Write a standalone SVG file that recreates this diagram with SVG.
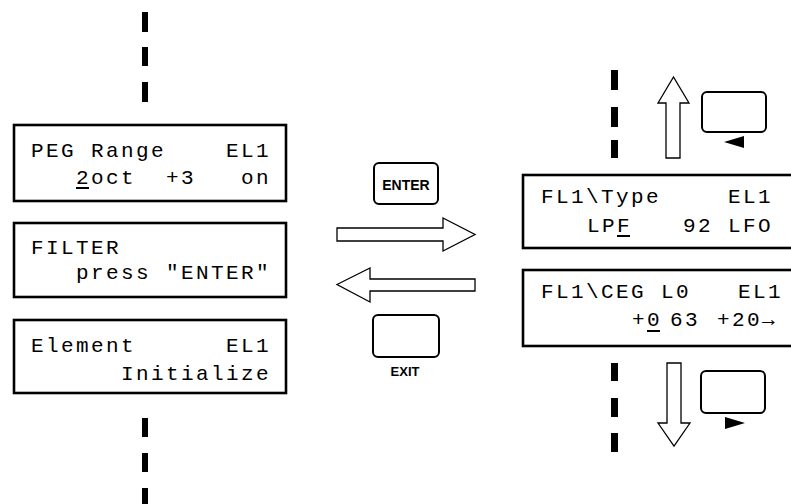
<svg xmlns="http://www.w3.org/2000/svg" width="791" height="504" viewBox="0 0 791 504">
<style>
.lcd{fill:#fff;stroke:#000;stroke-width:2.6}
.t{font-family:"Liberation Mono","DejaVu Sans Mono",monospace;font-size:21px;letter-spacing:2.4px;fill:#000}
.dash{fill:#000}
.btn{fill:#fff;stroke:#000;stroke-width:2}
.arr{fill:#fff;stroke:#000;stroke-width:1.3}
.lbl{font-family:"Liberation Sans",Arial,sans-serif;font-weight:bold;fill:#000}
.cur{stroke:#000;stroke-width:2}
</style>
<rect width="791" height="504" fill="#fff"/>
<g id="dashes">
<rect class="dash" x="142" y="12" width="6" height="20"/>
<rect class="dash" x="142" y="47" width="6" height="19"/>
<rect class="dash" x="142" y="82" width="6" height="20"/>
<rect class="dash" x="142" y="418" width="6" height="19"/>
<rect class="dash" x="142" y="453" width="6" height="19"/>
<rect class="dash" x="142" y="488" width="6" height="16"/>
<rect class="dash" x="611" y="70" width="7" height="20"/>
<rect class="dash" x="611" y="107" width="7" height="20"/>
<rect class="dash" x="611" y="140" width="7" height="18"/>
<rect class="dash" x="611" y="363" width="7" height="18"/>
<rect class="dash" x="611" y="398" width="7" height="19"/>
<rect class="dash" x="611" y="433" width="7" height="19"/>
</g>
<g id="lcd-peg-range">
<rect class="lcd" x="14" y="125" width="272" height="76"/>
<text class="t" x="31" y="157" xml:space="preserve">PEG Range    EL1</text>
<text class="t" x="31" y="184" xml:space="preserve">   2oct  +3   on</text>
<line class="cur" x1="76" y1="188" x2="89" y2="188"/>
</g>
<g id="lcd-filter">
<rect class="lcd" x="14" y="223" width="272" height="74"/>
<text class="t" x="31" y="254" xml:space="preserve">FILTER</text>
<text class="t" x="31" y="279" xml:space="preserve">   press "ENTER"</text>
</g>
<g id="lcd-element">
<rect class="lcd" x="14" y="320" width="272" height="73"/>
<text class="t" x="31" y="352" xml:space="preserve">Element      EL1</text>
<text class="t" x="31" y="380" xml:space="preserve">      Initialize</text>
</g>
<g id="btn-enter">
<rect class="btn" x="374" y="163" width="64" height="41" rx="5"/>
<text class="lbl" x="406" y="190" font-size="14" text-anchor="middle">ENTER</text>
</g>
<g id="btn-exit">
<rect class="btn" x="373" y="315" width="66" height="42" rx="5"/>
<text class="lbl" x="405" y="376" font-size="13" text-anchor="middle">EXIT</text>
</g>
<g id="lcd-fl1-type">
<rect class="lcd" x="523" y="175" width="280" height="73"/>
<text class="t" x="541" y="203">FL1\Type</text>
<text class="t" x="728" y="203">EL1</text>
<text class="t" x="587" y="232">LPF</text>
<text class="t" x="683" y="232">92</text>
<text class="t" x="728" y="232">LFO</text>
<line class="cur" x1="617" y1="236" x2="630" y2="236"/>
</g>
<g id="lcd-fl1-ceg">
<rect class="lcd" x="523" y="270" width="280" height="76"/>
<text class="t" x="541" y="298" xml:space="preserve">FL1\CEG L0</text>
<text class="t" x="738" y="298">EL1</text>
<text class="t" x="632" y="326">+0</text>
<text class="t" x="670" y="326">63</text>
<text class="t" x="717" y="326">+20→</text>
<line class="cur" x1="647" y1="331" x2="660" y2="331"/>
</g>
<g id="btn-left">
<rect class="btn" x="702" y="92" width="64" height="40" rx="5"/>
<polygon points="724,142 744,136 744,148" fill="#000"/>
</g>
<g id="btn-right">
<rect class="btn" x="701" y="371" width="64" height="42" rx="5"/>
<polygon points="745,423 725,417 725,429" fill="#000"/>
</g>
<g id="connectors">
<polygon class="arr" points="337,228 443,228 443,218 475,234.5 443,251 443,241 337,241"/>
<polygon class="arr" points="337,284.5 370,268 370,279 475,279 475,291 370,291 370,302"/>
<polygon class="arr" points="666,158 666,103 658,103 673.5,77 689,103 680,103 680,158"/>
<polygon class="arr" points="667,363 681,363 681,423 690,423 674,446 658,423 667,423"/>
</g>
</svg>
